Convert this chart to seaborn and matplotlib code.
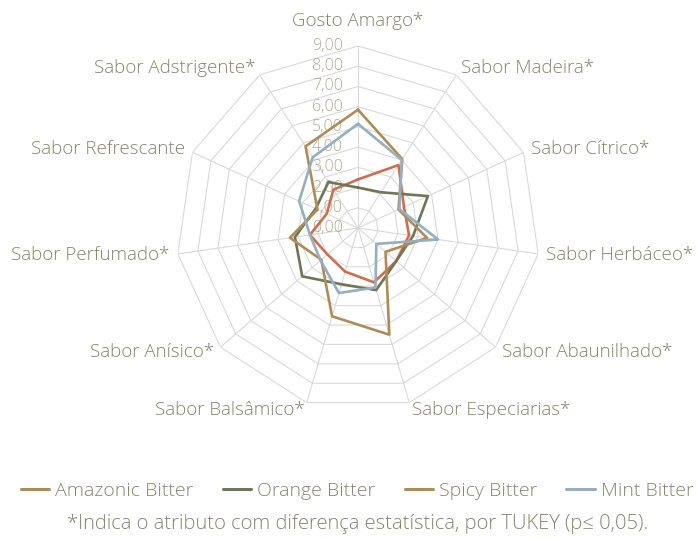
import numpy as np
import pandas as pd
import seaborn as sns
import matplotlib.pyplot as plt
from matplotlib.lines import Line2D

categories = ['Gosto Amargo*', 'Sabor Madeira*', 'Sabor Cítrico*', 'Sabor Herbáceo*',
              'Sabor Abaunilhado*', 'Sabor Especiarias*', 'Sabor Balsâmico*',
              'Sabor Anísico*', 'Sabor Perfumado*', 'Sabor Refrescante', 'Sabor Adstrigente*']

amazonic = [2.40, 3.70, 2.50, 2.55, 2.50, 2.80, 2.25, 2.00, 2.40, 1.70, 2.25]
orange = [2.00, 2.10, 3.80, 2.75, 2.50, 3.20, 2.90, 3.65, 3.15, 2.30, 2.70]
spicy = [5.85, 4.05, 2.20, 3.45, 1.80, 5.50, 4.55, 2.40, 3.40, 2.20, 4.80]
mint = [5.15, 4.00, 2.25, 4.00, 1.20, 3.07, 3.35, 2.45, 2.40, 3.20, 4.15]

series_names = ['Amazonic Bitter', 'Orange Bitter', 'Spicy Bitter', 'Mint Bitter']
tick_values = np.arange(0, 10)
tick_labels = [f'{v},00' for v in tick_values]

line_colors = {'Amazonic Bitter': '#CC6E50', 'Orange Bitter': '#6F7656',
               'Spicy Bitter': '#AE8C5A', 'Mint Bitter': '#97AEBE'}
# the legend in the original shows the tan colour for Amazonic as well
legend_colors = ['#AE8C5A', '#6F7656', '#AE8C5A', '#97AEBE']

label_color = '#85856D'
tick_color = '#AEAB93'
grid_color = '#D9D9D9'

n = len(categories)
theta = np.linspace(0, 2 * np.pi, n, endpoint=False)
theta_closed = np.append(theta, 2 * np.pi)

rows = []
for name, vals in zip(series_names, [amazonic, orange, spicy, mint]):
    closed = list(vals) + [vals[0]]
    for t, v in zip(theta_closed, closed):
        rows.append({'series': name, 'theta': t, 'value': v})
df = pd.DataFrame(rows)

sns.set_theme(style='white')
plt.rcParams['font.family'] = ['Open Sans', 'DejaVu Sans']
plt.rcParams['font.weight'] = 'light'

fig = plt.figure(figsize=(6.99, 5.38), dpi=100)
# centre at (358, 228) px, radius 182 px
ax = fig.add_axes([(358 - 182) / 699, (538 - 228 - 182) / 538, 364 / 699, 364 / 538],
                  projection='polar')
ax.set_theta_zero_location('N')
ax.set_theta_direction(-1)
ax.grid(False)
ax.spines['polar'].set_visible(False)
ax.set_xticks([])
ax.set_yticks([])

# polygon grid
for lvl in tick_values[1:]:
    ax.plot(theta_closed, [lvl] * len(theta_closed), color=grid_color, lw=0.8, zorder=1)
for t in theta:
    ax.plot([t, t], [0, tick_values[-1]], color=grid_color, lw=0.8, zorder=1)

sns.lineplot(data=df, x='theta', y='value', hue='series', palette=line_colors,
             sort=False, estimator=None, lw=1.9, ax=ax, legend=False, zorder=3)
ax.set_xlabel('')
ax.set_ylabel('')
ax.set_ylim(0, 9)

# radial tick labels left of the top spoke
for v, lab in zip(tick_values, tick_labels):
    ax.annotate(lab, xy=(0, v), xytext=(-11, 0), textcoords='offset points',
                ha='right', va='center', fontsize=11.5, color=tick_color, zorder=2)

# category labels
for t, lab in zip(theta, categories):
    s = np.sin(t)
    if abs(s) < 1e-6:
        ax.text(t, 10.25, lab, ha='center', va='center', fontsize=13.5, color=label_color)
    else:
        ax.text(t, 9.4, lab, ha='left' if s > 0 else 'right', va='center',
                fontsize=13.5, color=label_color)

handles = [Line2D([0], [0], color=c, lw=2.2) for c in legend_colors]
fig.legend(handles, series_names, loc='center', bbox_to_anchor=(0.511, 0.087), ncol=4,
           frameon=False, fontsize=14, handlelength=1.45, handletextpad=0.32,
           columnspacing=1.5, labelcolor=label_color)

fig.text(0.511, 0.026, '*Indica o atributo com diferença estatística, por TUKEY (p≤ 0,05).',
         ha='center', va='center', fontsize=14.5, color=label_color)

fig.savefig('out.png', dpi=100)
